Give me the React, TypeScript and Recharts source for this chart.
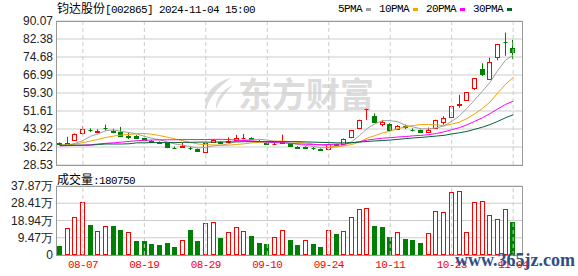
import {
  Bar,
  CartesianGrid,
  ComposedChart,
  Line,
  ReferenceLine,
  XAxis,
  YAxis,
} from "recharts";

const dates = [
  "08-02", "08-05", "08-06", "08-07", "08-08", "08-09", "08-12", "08-13", "08-14", "08-15",
  "08-16", "08-19", "08-20", "08-21", "08-22", "08-23", "08-26", "08-27", "08-28", "08-29",
  "08-30", "09-02", "09-03", "09-04", "09-05", "09-06", "09-09", "09-10", "09-11", "09-12",
  "09-13", "09-18", "09-19", "09-20", "09-23", "09-24", "09-25", "09-26", "09-27", "09-30",
  "10-08", "10-09", "10-10", "10-11", "10-14", "10-15", "10-16", "10-17", "10-18", "10-21",
  "10-22", "10-23", "10-24", "10-25", "10-28", "10-29", "10-30", "10-31", "11-01", "11-04",
];

const opens = [
  37.8, 37.0, 39.1, 42.1, 43.6, 42.8, 44.5, 43.2, 42.8, 41.0,
  41.1, 39.9, 38.9, 38.4, 38.1, 36.0, 36.1, 35.8, 35.5, 34.1,
  38.4, 38.4, 38.3, 39.2, 40.0, 40.2, 39.0, 38.1, 37.4, 37.8,
  37.8, 36.3, 36.1, 35.8, 35.4, 35.4, 37.3, 37.4, 40.4, 44.5,
  52.5, 49.6, 45.9, 46.1, 43.9, 45.0, 43.6, 43.6, 42.6, 44.5,
  47.0, 48.9, 54.0, 56.2, 61.3, 69.6, 65.3, 74.6, 81.3, 78.4,
];
const closes = [
  37.3, 37.8, 41.6, 43.8, 43.3, 43.2, 44.3, 42.7, 41.1, 40.7,
  40.2, 39.2, 38.4, 37.8, 36.4, 35.8, 36.5, 35.6, 34.7, 37.8,
  39.1, 37.8, 39.0, 40.2, 40.1, 39.5, 38.6, 37.6, 37.7, 38.3,
  36.8, 35.9, 35.9, 35.6, 35.1, 37.6, 37.0, 39.5, 43.5, 47.8,
  52.5, 47.0, 46.8, 43.6, 45.3, 44.8, 43.5, 42.8, 43.5, 47.6,
  48.5, 53.7, 54.4, 59.6, 65.6, 67.3, 72.4, 80.1, 80.9, 76.9,
];
const highs = [
  38.2, 40.6, 42.0, 45.2, 44.2, 43.8, 45.8, 44.0, 44.8, 42.3,
  41.3, 40.2, 39.1, 38.6, 38.2, 36.4, 38.1, 36.5, 35.6, 37.9,
  39.6, 38.6, 40.4, 41.4, 41.8, 40.4, 39.3, 38.3, 38.0, 41.5,
  38.0, 36.6, 36.5, 36.3, 35.6, 37.8, 37.6, 39.9, 43.5, 47.9,
  52.6, 50.6, 47.8, 46.4, 45.6, 45.8, 44.2, 43.7, 44.5, 47.9,
  49.4, 53.8, 58.5, 59.7, 65.7, 72.0, 74.4, 80.3, 85.1, 82.0,
];
const lows = [
  36.9, 36.8, 38.8, 41.5, 42.6, 42.3, 43.1, 42.1, 41.0, 39.6,
  40.0, 39.0, 38.2, 37.6, 35.7, 35.4, 35.9, 34.9, 34.5, 34.0,
  38.1, 37.6, 37.8, 39.0, 39.6, 39.3, 38.4, 37.1, 37.0, 37.6,
  36.6, 35.6, 35.4, 35.0, 34.8, 35.2, 36.6, 37.2, 40.0, 44.0,
  47.8, 46.8, 45.0, 43.4, 43.6, 43.9, 42.9, 42.6, 42.2, 44.3,
  45.8, 48.6, 53.0, 56.0, 60.6, 66.6, 65.0, 73.3, 75.2, 73.8,
];

// 成交量, in 万
const volumes = [
  4.9, 14.6, 20.7, 28.9, 16.5, 13.0, 15.7, 15.7, 13.7, 12.6,
  7.7, 7.7, 6.0, 5.5, 6.6, 4.4, 8.2, 13.7, 7.7, 17.6,
  18.0, 9.3, 12.6, 15.2, 13.0, 10.4, 6.6, 6.0, 9.7, 13.5,
  8.2, 5.5, 8.0, 6.0, 4.4, 13.5, 11.5, 13.0, 20.7, 25.1,
  25.6, 15.9, 15.4, 9.7, 12.4, 8.8, 8.2, 6.6, 11.9, 24.0,
  23.4, 34.4, 35.0, 12.4, 28.9, 29.5, 21.8, 19.6, 25.1, 18.075,
];
const volumeUp = [
  0, 1, 1, 1, 0, 1, 1, 0, 0, 1,
  0, 0, 0, 0, 0, 0, 1, 0, 0, 1,
  1, 0, 1, 1, 1, 0, 0, 0, 1, 1,
  0, 0, 1, 0, 0, 1, 0, 1, 1, 1,
  1, 0, 0, 0, 1, 0, 0, 0, 1, 1,
  1, 1, 1, 1, 1, 1, 1, 1, 1, 0,
];

const ma5 = [
  36.8, 37.0, 37.8, 39.0, 40.8, 41.9, 43.2, 43.5, 42.9, 42.4,
  41.8, 40.8, 39.9, 39.3, 38.4, 37.5, 37.0, 36.4, 35.8, 36.1,
  36.7, 37.0, 37.6, 38.7, 39.2, 39.3, 39.5, 39.2, 38.7, 38.3,
  37.8, 37.3, 36.9, 36.5, 35.9, 36.0, 36.2, 37.0, 38.5, 41.1,
  44.1, 46.1, 47.5, 47.5, 47.0, 45.5, 44.8, 44.0, 44.0, 44.4,
  45.2, 47.2, 49.5, 52.8, 56.4, 60.1, 63.9, 69.0, 73.3, 75.5,
];
const ma10 = [
  37.0, 37.1, 37.5, 38.1, 38.8, 39.5, 40.3, 40.9, 41.3, 41.6,
  41.9, 42.0, 41.7, 41.1, 40.4, 39.7, 38.9, 38.2, 37.5, 37.2,
  37.1, 37.0, 37.0, 37.3, 37.6, 38.0, 38.2, 38.4, 38.7, 38.8,
  38.5, 38.2, 37.9, 37.5, 37.0, 36.7, 36.5, 36.7, 37.3, 38.3,
  40.0, 41.1, 42.2, 43.0, 44.1, 44.8, 45.4, 45.8, 45.8, 45.7,
  45.3, 46.0, 46.8, 48.4, 50.4, 52.7, 55.5, 59.3, 63.0, 65.9,
];
const ma20 = [
  36.7, 36.8, 36.9, 37.0, 37.2, 37.5, 37.8, 38.0, 38.3, 38.6,
  38.9, 39.1, 39.2, 39.3, 39.3, 39.3, 39.4, 39.4, 39.4, 39.4,
  39.5, 39.5, 39.4, 39.2, 39.0, 38.8, 38.6, 38.3, 38.1, 38.0,
  37.8, 37.6, 37.4, 37.3, 37.2, 37.3, 37.4, 37.5, 38.0, 38.5,
  39.2, 39.6, 40.0, 40.2, 40.5, 40.7, 41.0, 41.2, 41.5, 42.0,
  42.7, 43.6, 44.5, 45.7, 47.2, 48.7, 50.5, 52.5, 54.4, 55.8,
];
const ma30 = [
  37.0, 37.0, 37.0, 37.0, 37.0, 37.3, 37.5, 37.5, 37.5, 37.6,
  38.0, 38.0, 38.1, 38.1, 38.1, 38.1, 38.2, 38.2, 38.3, 38.3,
  38.3, 38.4, 38.4, 38.4, 38.5, 38.5, 38.5, 38.5, 38.5, 38.5,
  38.5, 38.5, 38.4, 38.3, 38.2, 38.1, 38.0, 38.0, 38.1, 38.3,
  38.6, 38.8, 39.0, 39.2, 39.5, 39.8, 40.1, 40.3, 40.6, 40.9,
  41.2, 41.8, 42.3, 42.9, 43.8, 44.7, 45.8, 47.2, 48.7, 50.0,
];

const priceTicks = [28.53, 36.22, 43.92, 51.61, 59.3, 66.99, 74.68, 82.38, 90.07];
const volumeTicks = [0, 9.47, 18.94, 28.41, 37.87];
const labelDates = ["08-07", "08-19", "08-29", "09-10", "09-24", "10-11", "10-23", "11-04"];

const RED = "#ff0000";
const GREEN = "#008000";
const GRID = "#cccccc";
const FRAME = "#999999";
const MARK = "#dcdcdc";
const MONO = "'Liberation Mono', monospace";
const CJK = "'Noto Sans CJK SC', sans-serif";

const maSeries = [
  { key: "ma5", name: "5PMA", color: "#a0a0a0" },
  { key: "ma10", name: "10PMA", color: "#f4a300" },
  { key: "ma20", name: "20PMA", color: "#ff00ff" },
  { key: "ma30", name: "30PMA", color: "#006633" },
];

const rows = dates.map((date, i) => ({
  date,
  open: opens[i],
  close: closes[i],
  high: highs[i],
  low: lows[i],
  range: [lows[i], highs[i]],
  volume: volumes[i],
  volUp: volumeUp[i] === 1,
  ma5: ma5[i],
  ma10: ma10[i],
  ma20: ma20[i],
  ma30: ma30[i],
}));

function Candle(props: any) {
  const { x, y, width, height, payload } = props;
  if (x == null || !payload) return null;
  const top = Math.min(y, y + height);
  const h = Math.abs(height);
  const span = payload.high - payload.low || 1;
  const py = (p: number) => top + ((payload.high - p) / span) * h;
  const up = payload.close >= payload.open;
  const color = up ? RED : GREEN;
  const left = Math.round(x) + 0.5;
  const w = 4;
  const cx = left + w / 2;
  const bTop = Math.round(py(Math.max(payload.open, payload.close))) + 0.5;
  const bBot = Math.max(Math.round(py(Math.min(payload.open, payload.close))) + 0.5, bTop);
  return (
    <g>
      <line x1={cx} x2={cx} y1={py(payload.high)} y2={bTop} stroke={color} />
      <line x1={cx} x2={cx} y1={bBot} y2={py(payload.low)} stroke={color} />
      {bBot - bTop < 1 ? (
        <line x1={left} x2={left + w} y1={bTop} y2={bTop} stroke={color} />
      ) : (
        <rect x={left} y={bTop} width={w} height={bBot - bTop} fill={up ? "#fff" : color} stroke={color} />
      )}
    </g>
  );
}

function VolumeBar(props: any) {
  const { x, y, height, payload } = props;
  if (x == null || !payload) return null;
  const left = Math.round(x) + 0.5;
  const top = Math.round(y) + 0.5;
  const bottom = Math.round(y + height) - 0.5;
  const color = payload.volUp ? RED : GREEN;
  return (
    <rect
      x={left}
      y={top}
      width={4}
      height={Math.max(bottom - top, 0)}
      fill={payload.volUp ? "#fff" : color}
      stroke={color}
    />
  );
}

const axisTick = { fontSize: 12, fill: "#222", fontFamily: "'Liberation Sans', Arial, sans-serif" };

export default function App() {
  return (
    <div
      style={{
        position: "absolute",
        left: 0,
        top: 0,
        width: 578,
        height: 276,
        background: "#fff",
        overflow: "hidden",
        fontFamily: CJK,
      }}
    >
      {/* watermark */}
      <svg style={{ position: "absolute", left: 200, top: 76 }} width={36} height={36}>
        <path d="M31 2 C14 6 3 18 6 34 C9 22 17 12 31 2 Z" fill={MARK} />
        <path d="M33 9 C22 14 15 23 16 33 C20 24 25 17 33 9 Z" fill={MARK} />
      </svg>
      <div
        style={{
          position: "absolute",
          left: 238,
          top: 73,
          fontSize: 34,
          lineHeight: "40px",
          fontWeight: 700,
          color: MARK,
          fontFamily: CJK,
          whiteSpace: "nowrap",
        }}
      >
        东方财富
      </div>

      <div style={{ position: "absolute", left: 57, top: 1, fontSize: 12, lineHeight: "14px", whiteSpace: "nowrap" }}>
        <span style={{ fontFamily: CJK }}>钧达股份</span>
        <span style={{ fontFamily: MONO, fontSize: 11, letterSpacing: -0.6 }}>[002865] 2024-11-04 15:00</span>
      </div>

      <div style={{ position: "absolute", left: 338, top: 2, display: "flex", alignItems: "center", whiteSpace: "nowrap" }}>
        {maSeries.map((s) => (
          <div key={s.key} style={{ display: "flex", alignItems: "center", marginRight: 8 }}>
            <span style={{ fontFamily: MONO, fontSize: 11, letterSpacing: -0.6, lineHeight: "14px" }}>{s.name}</span>
            <span style={{ display: "inline-block", width: 5, height: 3, background: s.color, marginLeft: 4 }} />
          </div>
        ))}
      </div>

      <div style={{ position: "absolute", left: 0, top: 0 }}>
        <ComposedChart width={578} height={173} data={rows} margin={{ top: 21, right: 56, bottom: 8, left: 0 }}>
          <CartesianGrid vertical={false} stroke={GRID} />
          <XAxis dataKey="date" hide padding={{ left: 0, right: 5 }} />
          <YAxis
            domain={[28.53, 90.07]}
            ticks={priceTicks}
            interval={0}
            width={56}
            tick={axisTick}
            tickFormatter={(v: number) => v.toFixed(2)}
            tickLine={false}
            axisLine={false}
            tickSize={0}
            tickMargin={3}
          />
          {labelDates.map((d) => (
            <ReferenceLine key={d} x={d} stroke={GRID} strokeDasharray="4 3" />
          ))}
          {maSeries.map((s) => (
            <Line
              key={s.key}
              type="linear"
              dataKey={s.key}
              stroke={s.color}
              strokeWidth={1}
              dot={false}
              isAnimationActive={false}
            />
          ))}
          <Bar dataKey="range" barSize={5} shape={Candle} isAnimationActive={false} />
        </ComposedChart>
      </div>

      <div style={{ position: "absolute", left: 57, top: 170, whiteSpace: "nowrap", lineHeight: "14px" }}>
        <span style={{ fontFamily: CJK, fontSize: 12 }}>成交量</span>
        <span style={{ fontFamily: MONO, fontSize: 11, letterSpacing: -0.6 }}>:180750</span>
      </div>

      <div style={{ position: "absolute", left: 0, top: 170 }}>
        <ComposedChart width={578} height={106} data={rows} margin={{ top: 16, right: 56, bottom: 0, left: 0 }}>
          <CartesianGrid vertical={false} stroke={GRID} />
          <XAxis
            dataKey="date"
            ticks={labelDates}
            interval={0}
            height={21}
            padding={{ left: 0, right: 5 }}
            tickLine={false}
            axisLine={false}
            tickSize={0}
            tickMargin={5}
            tick={{ fontSize: 11, fill: RED, fontFamily: MONO, letterSpacing: -0.6 }}
          />
          <YAxis
            domain={[0, 37.87]}
            ticks={volumeTicks}
            interval={0}
            width={56}
            tick={axisTick}
            tickFormatter={(v: number) => (v === 0 ? "0" : v.toFixed(2) + "万")}
            tickLine={false}
            axisLine={false}
            tickSize={0}
            tickMargin={3}
          />
          {labelDates.map((d) => (
            <ReferenceLine key={d} x={d} stroke={GRID} strokeDasharray="4 3" />
          ))}
          <Bar dataKey="volume" barSize={5} shape={VolumeBar} isAnimationActive={false} />
        </ComposedChart>
      </div>

      <div
        style={{
          position: "absolute",
          left: 56,
          top: 21,
          width: 467,
          height: 145,
          boxSizing: "border-box",
          border: `1px solid ${FRAME}`,
          pointerEvents: "none",
        }}
      />
      <div
        style={{
          position: "absolute",
          left: 56,
          top: 186,
          width: 467,
          height: 70,
          boxSizing: "border-box",
          border: `1px solid ${FRAME}`,
          pointerEvents: "none",
        }}
      />

      <div
        style={{
          position: "absolute",
          left: 455,
          top: 250,
          fontFamily: "'Liberation Serif', serif",
          fontWeight: 700,
          fontSize: 18,
          lineHeight: "20px",
          color: "#2e4f86",
          whiteSpace: "nowrap",
        }}
      >
        www.365jz.com
      </div>
    </div>
  );
}
